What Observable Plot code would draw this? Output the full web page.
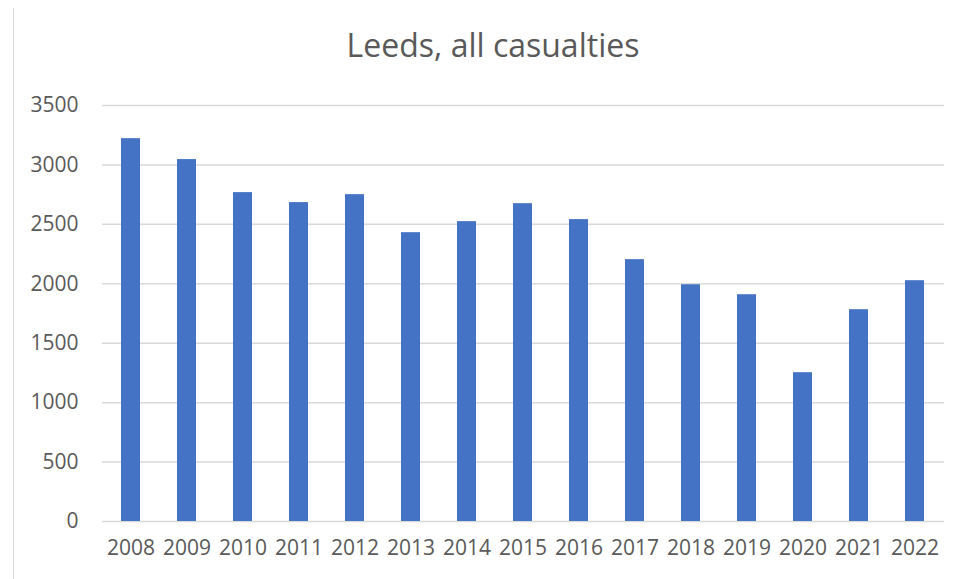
<!DOCTYPE html>
<html>
<head>
<meta charset="utf-8">
<script src="https://cdn.jsdelivr.net/npm/d3@7"></script>
<script src="https://cdn.jsdelivr.net/npm/@observablehq/plot@0.6"></script>
<style>
  html, body { margin: 0; padding: 0; background: #fff; }
  #wrap { position: relative; width: 956px; height: 579px; overflow: hidden; background: #fff; }
  #border { position: absolute; left: 13px; top: 8px; bottom: 0; width: 0; border-left: 1px solid #d9d9d9; z-index: 5; }
  #title { position: absolute; left: 0; width: 956px; top: 29px; text-align: center; padding-left: 30px; box-sizing: border-box;
           font-family: "Open Sans", "Noto Sans", sans-serif; font-size: 32px; line-height: 1; color: #595959; }
  #chart { position: absolute; left: 0; top: 80px; }
</style>
</head>
<body>
<div id="wrap">
  <div id="title">Leeds, all casualties</div>
  <div id="chart"></div>
  <div id="border"></div>
</div>
<script>
const years = ["2008","2009","2010","2011","2012","2013","2014","2015","2016","2017","2018","2019","2020","2021","2022"];
const casualties = [3221, 3045, 2767, 2683, 2750, 2430, 2523, 2674, 2540, 2203, 1992, 1908, 1252, 1782, 2026];
const yTicks = [0, 500, 1000, 1500, 2000, 2500, 3000, 3500];

const data = years.map((y, i) => ({year: y, value: casualties[i]}));

const chart = Plot.plot({
  width: 956,
  height: 499,
  marginTop: 25,
  marginBottom: 58,
  marginLeft: 102,
  marginRight: 12,
  style: {fontFamily: "'Open Sans', 'Noto Sans', sans-serif", fontSize: "21px", color: "#595959", background: "transparent"},
  x: {domain: years, paddingInner: 0.66, paddingOuter: 0.33, label: null},
  y: {domain: [0, 3500], label: null},
  marks: [
    Plot.gridY(yTicks, {stroke: "#d9d9d9", strokeOpacity: 1, strokeWidth: 1.5}),
    Plot.barY(data, {x: "year", y: "value", fill: "#4472c4"}),
    Plot.axisX({tickSize: 0, tickPadding: 19, fontSize: 21, fill: "#595959"}),
    Plot.axisY({ticks: yTicks, tickFormat: d3.format("d"), tickSize: 0, tickPadding: 24, fontSize: 21, fill: "#595959"})
  ]
});
document.getElementById("chart").appendChild(chart);
</script>
</body>
</html>
